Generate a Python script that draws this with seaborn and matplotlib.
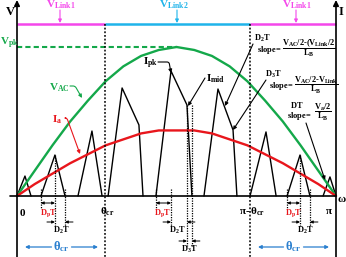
import numpy as np
import pandas as pd
import matplotlib
matplotlib.use("Agg")
import matplotlib.pyplot as plt
import seaborn as sns

# ---- values (x = angle in degrees, pi = 180) ----
curve_deg = [0, 10, 20, 30, 40, 50, 60, 70, 80, 90, 100, 110, 120, 130, 140, 150, 160, 170, 180]
v_ac = [0, 0.17, 0.34, 0.50, 0.64, 0.77, 0.87, 0.94, 0.98, 1.00, 0.98, 0.94, 0.87, 0.77, 0.64, 0.50, 0.34, 0.17, 0]
i_a = [0, 0.08, 0.15, 0.22, 0.28, 0.34, 0.38, 0.42, 0.44, 0.44, 0.44, 0.42, 0.38, 0.34, 0.28, 0.22, 0.15, 0.08, 0]

v_pk = 1.0
v_link = 1.154
crit_deg = [49.6, 131.5]          # theta_cr and pi - theta_cr
link_edges = [0, 49.6, 131.5, 180]

# inductor current pulses (corner points)
pulse_deg = [
    [0, 4.5, 7.9],
    [13.5, 21.4, 27.1],
    [34.4, 42.3, 48.0],
    [51.4, 59.3, 68.8, 71.1],
    [78.4, 86.9, 95.9, 98.7],
    [105.5, 113.4, 121.9, 124.1],
    [131.5, 140.5, 146.2],
    [152.4, 159.7, 165.3],
    [172.7, 176.6, 180],
]
pulse_amp = [
    [0, 0.134, 0],
    [0, 0.275, 0],
    [0, 0.436, 0],
    [0, 0.725, 0.477, 0],
    [0, 0.839, 0.611, 0],
    [0, 0.718, 0.443, 0],
    [0, 0.430, 0],
    [0, 0.275, 0],
    [0, 0.128, 0],
]

GREEN = "#14a84a"
RED = "#e8161c"
MAGENTA = "#f447ea"
CYAN = "#1fb4ea"
BLUE = "#2a7fcf"

sns.set_theme(style="white")
plt.rcParams["font.family"] = ["Liberation Serif", "DejaVu Serif"]
plt.rcParams["font.weight"] = "bold"
plt.rcParams["mathtext.fontset"] = "custom"
plt.rcParams["mathtext.rm"] = "Liberation Serif:bold"
plt.rcParams["mathtext.it"] = "Liberation Serif:bold"
plt.rcParams["mathtext.bf"] = "Liberation Serif:bold"


def P(x, y):
    # reference pixel position -> data coords (only for placing labels)
    return (x - 17) * 180 / 319, (196 - y) / 149


fig = plt.figure(figsize=(3.46, 2.57), dpi=100)
ax = fig.add_axes([0, 0, 1, 1])

# pulses
rows = []
for k, (xs, ys) in enumerate(zip(pulse_deg, pulse_amp)):
    for x, y in zip(xs, ys):
        rows.append({"pulse": k, "theta": x, "amp": y})
df_pulse = pd.DataFrame(rows)
sns.lineplot(data=df_pulse, x="theta", y="amp", units="pulse", estimator=None,
             sort=False, color="black", lw=1.0, ax=ax)

# AC voltage and line current
sns.lineplot(x=curve_deg, y=v_ac, color=GREEN, lw=1.7, ax=ax)
sns.lineplot(x=curve_deg, y=i_a, color=RED, lw=1.7, ax=ax)

# dc link levels
for a, b, c in zip(link_edges[:-1], link_edges[1:], [MAGENTA, CYAN, MAGENTA]):
    ax.plot([a, b], [v_link, v_link], color=c, lw=1.8, solid_capstyle="butt")
ax.plot([0, 90], [v_pk, v_pk], color=GREEN, lw=1.5, ls=(0, (2.5, 1.5)))

ymin, ymax = P(0, 257)[1], P(0, 0)[1]
xmin, xmax = P(0, 0)[0], P(346, 0)[0]

# theta_cr dotted lines
for c in crit_deg:
    ax.plot([c, c], [v_link, ymin], color="black", lw=1.1, ls=(0, (1.2, 1.2)))

# axes
arw = dict(arrowstyle="-|>", color="black", lw=1.2, mutation_scale=8, shrinkA=0, shrinkB=0)
ax.annotate("", xy=(0, ymax), xytext=(0, ymin), arrowprops=arw)
ax.annotate("", xy=(180, ymax), xytext=(180, ymin), arrowprops=arw)
ax.plot([P(10, 0)[0], 180], [0, 0], color="black", lw=1.2)

# duty cycle markers
dot = dict(color="black", lw=0.9, ls=(0, (1, 1)))
small = dict(arrowstyle="-|>", color="black", lw=0.7, mutation_scale=4, shrinkA=0, shrinkB=0)
both = dict(arrowstyle="<|-|>", color="black", lw=0.7, mutation_scale=4, shrinkA=0, shrinkB=0)
y_dp, y_d2, y_d3 = P(0, 203)[1], P(0, 222)[1], P(0, 241)[1]
y_lo1, y_lo2, y_lo3 = P(0, 208)[1], P(0, 226)[1], P(0, 246)[1]
gap = 4.5


def inward(a, b, y):
    ax.annotate("", xy=(a, y), xytext=(a - gap, y), arrowprops=small)
    ax.annotate("", xy=(b, y), xytext=(b + gap, y), arrowprops=small)


for g in [1, 7]:
    xs, ys = pulse_deg[g], pulse_amp[g]
    ax.plot([xs[0], xs[0]], [0.05, y_lo1], **dot)
    ax.plot([xs[1], xs[1]], [ys[1], y_lo2], **dot)
    ax.plot([xs[2], xs[2]], [0.05, y_lo2], **dot)
    ax.annotate("", xy=(xs[1], y_dp), xytext=(xs[0], y_dp), arrowprops=both)
    inward(xs[1], xs[2], y_d2)

xs, ys = pulse_deg[4], pulse_amp[4]
ax.plot([xs[0], xs[0]], [0.05, y_lo1], **dot)
ax.plot([xs[1], xs[1]], [0.05, y_lo2], **dot)
ax.plot([xs[2], xs[2]], [ys[2], y_lo3], **dot)
ax.plot([xs[3], xs[3]], [ys[2], y_lo3], **dot)
ax.annotate("", xy=(xs[1], y_dp), xytext=(xs[0], y_dp), arrowprops=both)
inward(xs[1], xs[2], y_d2)
inward(xs[2], xs[3], y_d3)


def lab(px, py, s, color="black", size=8, ha="center"):
    ax.text(*P(px, py), s, color=color, fontsize=size, ha=ha, va="center")


# axis labels
lab(10, 12, "V", size=9)
lab(341, 12, "I", size=9)
lab(337, 199, r"$\omega$", ha="left")
lab(0, 43, r"$V_{pk}$", color=GREEN, ha="left")
lab(22, 213, "0")
lab(107, 212, r"$\theta_{cr}$")
lab(252, 212, r"$\pi\text{-}\,\theta_{cr}$")
lab(329, 212, r"$\pi$")

# link labels
lab(61, 5, r"$V_{Link1}$", color=MAGENTA)
lab(174, 5, r"$V_{Link2}$", color=CYAN)
lab(297, 5, r"$V_{Link1}$", color=MAGENTA)
for px, c in [(60, MAGENTA), (177, CYAN), (296, MAGENTA)]:
    ax.annotate("", xy=P(px, 23), xytext=P(px, 10),
                arrowprops=dict(arrowstyle="-|>", color=c, lw=0.8, mutation_scale=5,
                                shrinkA=0, shrinkB=0))

# curve labels
lab(59, 88, r"$V_{AC}$", color=GREEN)
ax.annotate("", xy=P(82, 98), xytext=P(70, 86),
            arrowprops=dict(arrowstyle="-|>", color=GREEN, lw=0.8, mutation_scale=5,
                            shrinkA=0, shrinkB=0, connectionstyle="angle,angleA=0,angleB=-60,rad=2"))
lab(57, 120, r"$I_a$", color=RED)
ax.annotate("", xy=P(80, 154), xytext=P(66, 118),
            arrowprops=dict(arrowstyle="-|>", color=RED, lw=0.8, mutation_scale=5,
                            shrinkA=0, shrinkB=0, connectionstyle="angle,angleA=0,angleB=-70,rad=2"))
lab(150, 63, r"$I_{pk}$")
ax.annotate("", xy=P(171, 73), xytext=P(158, 62),
            arrowprops=dict(arrowstyle="-|>", color="black", lw=0.8, mutation_scale=5,
                            shrinkA=0, shrinkB=0, connectionstyle="angle,angleA=0,angleB=-80,rad=2"))
lab(216, 79, r"$I_{mid}$")
ax.annotate("", xy=P(188, 106), xytext=P(205, 78),
            arrowprops=dict(arrowstyle="-|>", color="black", lw=0.8, mutation_scale=5,
                            shrinkA=0, shrinkB=0))

# slope labels
lab(262, 38, r"$D_2T$", size=6)
lab(281, 50, r"$slope$=", size=6, ha="right")
lab(282, 48, r"$\dfrac{V_{AC}/2\text{-}(V_{Link}/2}{L_B}$", size=6, ha="left")
ax.annotate("", xy=P(225, 106), xytext=P(253, 44),
            arrowprops=dict(arrowstyle="-|>", color="black", lw=0.8, mutation_scale=5,
                            shrinkA=0, shrinkB=0))
lab(273, 74, r"$D_3T$", size=6)
lab(293, 86, r"$slope$=", size=6, ha="right")
lab(294, 85, r"$\dfrac{V_{AC}/2\text{-}V_{Link}}{L_B}$", size=6, ha="left")
ax.annotate("", xy=P(233, 130), xytext=P(266, 80),
            arrowprops=dict(arrowstyle="-|>", color="black", lw=0.8, mutation_scale=5,
                            shrinkA=0, shrinkB=0))
lab(297, 105, r"$DT$", size=6)
lab(311, 116, r"$slope$=", size=6, ha="right")
lab(314, 112, r"$\dfrac{V_a/2}{L_B}$", size=6, ha="left")
ax.annotate("", xy=P(325, 180), xytext=P(306, 123),
            arrowprops=dict(arrowstyle="-|>", color="black", lw=0.8, mutation_scale=5,
                            shrinkA=0, shrinkB=0))

# duty cycle labels
for px in [48, 162, 293]:
    lab(px, 213, r"$D_pT$", color=RED, size=6)
for px in [61, 177, 305]:
    lab(px, 230, r"$D_2T$", size=6)
lab(189, 249, r"$D_3T$", size=6)

# theta_cr spans
for a, b in [(25, 98), (258, 329)]:
    mid = (a + b) / 2
    lab(mid, 247, r"$\theta_{cr}$", color=BLUE, size=9)
    for end, start in [(a, mid - 10), (b, mid + 10)]:
        ax.annotate("", xy=P(end, 247), xytext=P(start, 247),
                    arrowprops=dict(arrowstyle="-|>", color=BLUE, lw=0.9, mutation_scale=5,
                                    shrinkA=0, shrinkB=0))

ax.set_xlim(xmin, xmax)
ax.set_ylim(ymin, ymax)
ax.axis("off")
fig.savefig("out.png", dpi=100)
